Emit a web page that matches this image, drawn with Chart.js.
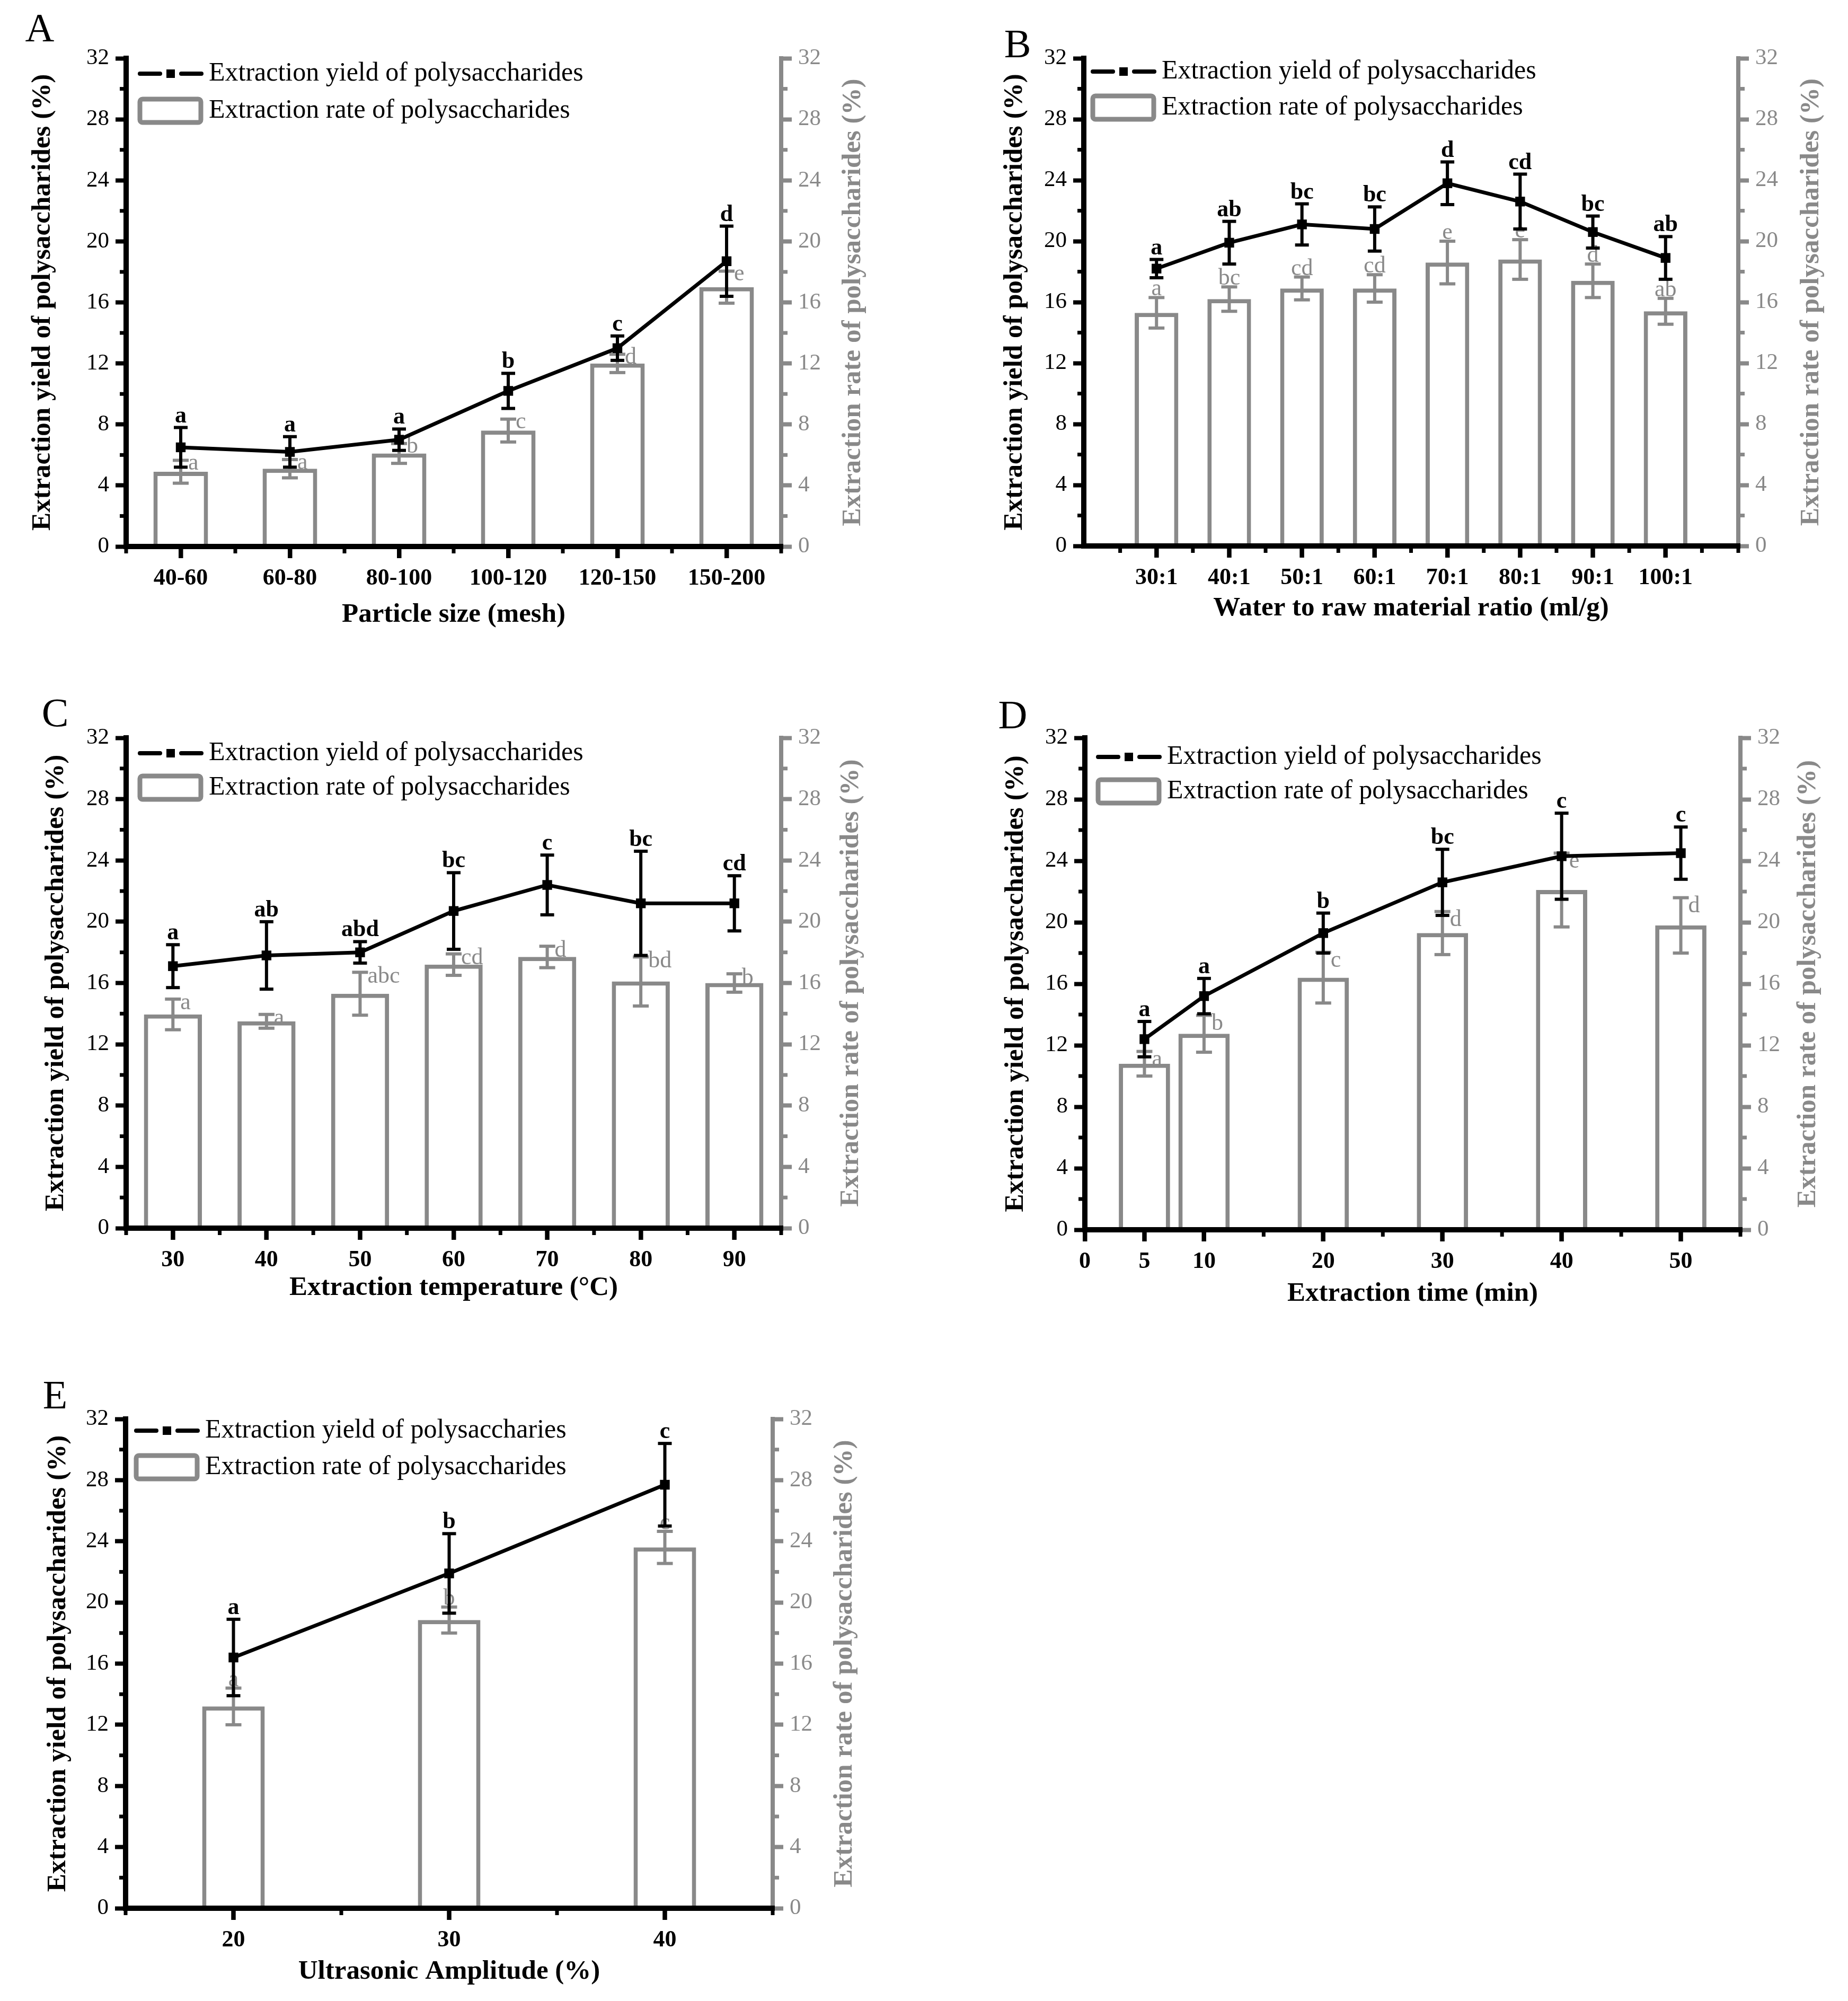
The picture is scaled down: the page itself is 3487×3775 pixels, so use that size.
<!DOCTYPE html>
<html>
<head>
<meta charset="utf-8">
<script src="https://cdn.jsdelivr.net/npm/chart.js@4.4.1/dist/chart.umd.min.js"></script>
<style>
  html, body { margin: 0; padding: 0; background: #fff; }
  body { width: 3487px; height: 3775px; position: relative; overflow: hidden; }
  canvas { position: absolute; }
</style>
</head>
<body>
<canvas id="cA"></canvas>
<canvas id="cB"></canvas>
<canvas id="cC"></canvas>
<canvas id="cD"></canvas>
<canvas id="cE"></canvas>
<script>
// A - particle size
const sizeLabels = ['40-60', '60-80', '80-100', '100-120', '120-150', '150-200'];
const sizeYield = [6.5, 6.2, 7.0, 10.2, 13.0, 18.7];
const sizeYieldErr = [1.3, 1.0, 0.7, 1.15, 0.8, 2.3];
const sizeYieldSig = ['a', 'a', 'a', 'b', 'c', 'd'];
const sizeRate = [4.9, 5.1, 6.1, 7.6, 12.0, 17.0];
const sizeRateErr = [0.75, 0.6, 0.65, 0.75, 0.6, 1.05];
const sizeRateSig = ['a', 'a', 'b', 'c', 'd', 'e'];

// B - water to raw material ratio
const ratioLabels = ['30:1', '40:1', '50:1', '60:1', '70:1', '80:1', '90:1', '100:1'];
const ratioYield = [18.2, 19.9, 21.1, 20.8, 23.8, 22.6, 20.6, 18.9];
const ratioYieldErr = [0.6, 1.4, 1.35, 1.45, 1.4, 1.8, 1.05, 1.4];
const ratioYieldSig = ['a', 'ab', 'bc', 'bc', 'd', 'cd', 'bc', 'ab'];
const ratioRate = [15.3, 16.2, 16.9, 16.9, 18.6, 18.8, 17.4, 15.4];
const ratioRateErr = [1.0, 0.8, 0.75, 0.9, 1.4, 1.3, 1.1, 0.85];
const ratioRateSig = ['a', 'bc', 'cd', 'cd', 'e', 'e', 'd', 'ab'];

// C - extraction temperature
const temps = [30, 40, 50, 60, 70, 80, 90];
const tempYield = [17.1, 17.8, 18.0, 20.7, 22.4, 21.2, 21.2];
const tempYieldErr = [1.4, 2.2, 0.7, 2.5, 1.95, 3.4, 1.8];
const tempYieldSig = ['a', 'ab', 'abd', 'bc', 'c', 'bc', 'cd'];
const tempRate = [13.95, 13.5, 15.3, 17.2, 17.7, 16.1, 16.0];
const tempRateErr = [1.0, 0.45, 1.4, 0.7, 0.7, 1.6, 0.6];
const tempRateSig = ['a', 'a', 'abc', 'cd', 'd', 'bd', 'b'];

// D - extraction time
const times = [5, 10, 20, 30, 40, 50];
const timeYield = [12.4, 15.2, 19.3, 22.6, 24.3, 24.5];
const timeYieldErr = [1.15, 1.15, 1.3, 2.15, 2.8, 1.7];
const timeYieldSig = ['a', 'a', 'b', 'bc', 'c', 'c'];
const timeRate = [10.8, 12.75, 16.4, 19.3, 22.1, 19.8];
const timeRateErr = [0.8, 1.2, 1.65, 1.4, 2.4, 1.8];
const timeRateSig = ['a', 'b', 'c', 'd', 'e', 'd'];
const timeTicks = [0, 5, 10, 20, 30, 40, 50];

// E - ultrasonic amplitude
const amps = [20, 30, 40];
const ampYield = [16.4, 21.9, 27.7];
const ampYieldErr = [2.5, 2.6, 2.7];
const ampYieldSig = ['a', 'b', 'c'];
const ampRate = [13.2, 18.85, 23.6];
const ampRateErr = [1.2, 0.85, 1.05];
const ampRateSig = ['a', 'b', 'c'];

const yTicksMinor = [2, 6, 10, 14, 18, 22, 26, 30];

const GREY = '#898989';
const SERIF = '"Liberation Serif", "Times New Roman", serif';
const yieldTitle = 'Extraction yield of polysaccharides (%)';
const rateTitle = 'Extraction rate of polysaccharides (%)';

const panels = [
  { id: 'cA', tag: 'A', tagAt: [75, 58],
    box: { x: 0, y: 0, w: 1720, h: 1210 }, area: { l: 238, t: 110, r: 1474, b: 1031 },
    leftTitleX: 81, rightTitleX: 1610, xTitleY: 1160,
    legend: { dx: 22, y1: 29, y2: 99 }, rateMode: 'right', rateDy: 6,
    xs: sizeLabels.map((_, i) => i), xMin: -0.5, xMax: 5.5, xTicks: sizeLabels.map((_, i) => i),
    xFmt: v => sizeLabels[v], minorX: [-0.5, 0.5, 1.5, 2.5, 3.5, 4.5, 5.5], barPct: 0.5,
    xTitle: 'Particle size (mesh)', lineLabel: 'Extraction yield of polysaccharides',
    yv: sizeYield, ye: sizeYieldErr, ys: sizeYieldSig, rv: sizeRate, re: sizeRateErr, rs: sizeRateSig },
  { id: 'cB', tag: 'B', tagAt: [1920, 88],
    box: { x: 1740, y: 0, w: 1747, h: 1210 }, area: { l: 2045, t: 110, r: 3280, b: 1030 },
    leftTitleX: 1915, rightTitleX: 3418, xTitleY: 1148,
    legend: { dx: 13, y1: 25, y2: 93 }, rateMode: 'above', rateDy: 0,
    xs: ratioLabels.map((_, i) => i), xMin: -1, xMax: 8, xTicks: ratioLabels.map((_, i) => i),
    xFmt: v => ratioLabels[v], minorX: [-0.5, 0.5, 1.5, 2.5, 3.5, 4.5, 5.5, 6.5, 7.5, 8], barPct: 0.6,
    xTitle: 'Water to raw material ratio (ml/g)', lineLabel: 'Extraction yield of polysaccharides',
    yv: ratioYield, ye: ratioYieldErr, ys: ratioYieldSig, rv: ratioRate, re: ratioRateErr, rs: ratioRateSig },
  { id: 'cC', tag: 'C', tagAt: [104, 1350],
    box: { x: 0, y: 1260, w: 1720, h: 1230 }, area: { l: 238, t: 1392, r: 1474, b: 2317 },
    leftTitleX: 106, rightTitleX: 1606, xTitleY: 2430,
    legend: { dx: 22, y1: 29, y2: 94 }, rateMode: 'right', rateDy: 8,
    xs: temps, xMin: 25, xMax: 95, xTicks: temps,
    xFmt: v => String(v), minorX: [25, 35, 45, 55, 65, 75, 85, 95], barPct: 0.62,
    xTitle: 'Extraction temperature (°C)', lineLabel: 'Extraction yield of polysaccharides',
    yv: tempYield, ye: tempYieldErr, ys: tempYieldSig, rv: tempRate, re: tempRateErr, rs: tempRateSig },
  { id: 'cD', tag: 'D', tagAt: [1911, 1354],
    box: { x: 1740, y: 1260, w: 1747, h: 1230 }, area: { l: 2047, t: 1392, r: 3284, b: 2320 },
    leftTitleX: 1917, rightTitleX: 3412, xTitleY: 2441,
    legend: { dx: 21, y1: 36, y2: 101 }, rateMode: 'right', rateDy: 16,
    xs: times, xMin: 0, xMax: 55, xTicks: timeTicks,
    xFmt: v => String(v), minorX: [15, 25, 35, 45, 55], barPct: 0.86,
    xTitle: 'Extraction time (min)', lineLabel: 'Extraction yield of polysaccharides',
    yv: timeYield, ye: timeYieldErr, ys: timeYieldSig, rv: timeRate, re: timeRateErr, rs: timeRateSig },
  { id: 'cE', tag: 'E', tagAt: [104, 2637],
    box: { x: 0, y: 2560, w: 1720, h: 1215 }, area: { l: 237, t: 2677, r: 1458, b: 3600 },
    leftTitleX: 110, rightTitleX: 1594, xTitleY: 3720,
    legend: { dx: 16, y1: 22, y2: 91 }, rateMode: 'above', rateDy: 0,
    xs: amps, xMin: 15, xMax: 45, xTicks: amps,
    xFmt: v => String(v), minorX: [15, 25, 35, 45], barPct: 0.29,
    xTitle: 'Ultrasonic Amplitude (%)', lineLabel: 'Extraction yield of polysaccharies',
    yv: ampYield, ye: ampYieldErr, ys: ampYieldSig, rv: ampRate, re: ampRateErr, rs: ampRateSig }
];
const panelById = {};
panels.forEach(p => { panelById[p.id] = p; });

function seg(ctx, x1, y1, x2, y2) {
  ctx.beginPath(); ctx.moveTo(x1, y1); ctx.lineTo(x2, y2); ctx.stroke();
}

const extras = {
  id: 'extras',
  afterDatasetDraw(chart, args) {
    const p = panelById[chart.canvas.id];
    const ds = chart.data.datasets[args.index];
    const meta = args.meta;
    const sc = chart.scales[meta.yAxisID];
    const ctx = chart.ctx;
    const isBar = meta.type === 'bar';
    const cap = isBar ? 15 : 13;
    ctx.save();
    ctx.strokeStyle = isBar ? GREY : '#000';
    ctx.lineWidth = 6;
    meta.data.forEach((el, i) => {
      const v = ds.data[i].y, e = ds.errors[i];
      const t = sc.getPixelForValue(v + e), b = sc.getPixelForValue(v - e);
      seg(ctx, el.x, t, el.x, b);
      seg(ctx, el.x - cap, t, el.x + cap, t);
      seg(ctx, el.x - cap, b, el.x + cap, b);
    });
    ctx.font = (isBar ? '' : 'bold ') + '44px ' + SERIF;
    ctx.fillStyle = isBar ? GREY : '#000';
    meta.data.forEach((el, i) => {
      const t = sc.getPixelForValue(ds.data[i].y + ds.errors[i]);
      if (isBar && p.rateMode === 'right') {
        ctx.textAlign = 'left'; ctx.textBaseline = 'middle';
        ctx.fillText(ds.sig[i], el.x + 14, t + p.rateDy);
      } else {
        ctx.textAlign = 'center'; ctx.textBaseline = 'alphabetic';
        ctx.fillText(ds.sig[i], el.x, t - (isBar ? 4 : 10));
      }
    });
    ctx.restore();
  },
  afterDraw(chart) {
    const p = panelById[chart.canvas.id];
    const ctx = chart.ctx;
    const { left, right, top, bottom } = chart.chartArea;
    const sx = chart.scales.x, sy = chart.scales.y, sy1 = chart.scales.y1;
    ctx.save();
    // bottom axis line and its tick marks, kept above the bars
    ctx.strokeStyle = '#000';
    ctx.lineWidth = 10;
    seg(ctx, left - 5, bottom, right + 4, bottom);
    ctx.lineWidth = 8;
    sx.ticks.forEach(t => { const x = sx.getPixelForValue(t.value); seg(ctx, x, bottom, x, bottom + 22); });
    // minor ticks
    ctx.lineWidth = 7;
    yTicksMinor.forEach(v => { const y = sy.getPixelForValue(v); seg(ctx, left - 12, y, left, y); });
    p.minorX.forEach(v => { const x = sx.getPixelForValue(v); seg(ctx, x, bottom, x, bottom + 13); });
    ctx.strokeStyle = GREY;
    yTicksMinor.forEach(v => { const y = sy1.getPixelForValue(v); seg(ctx, right, y, right + 12, y); });

    // legend
    const lx = left + p.legend.dx, y1 = top + p.legend.y1, y2 = top + p.legend.y2;
    const lineDs = chart.data.datasets[0], barDs = chart.data.datasets[1];
    ctx.strokeStyle = '#000'; ctx.lineWidth = 8; ctx.lineCap = 'round';
    seg(ctx, lx + 4, y1, lx + 42, y1);
    seg(ctx, lx + 82, y1, lx + 120, y1);
    ctx.fillStyle = '#000';
    ctx.fillRect(lx + 54, y1 - 8, 16, 16);
    ctx.lineCap = 'butt';
    ctx.strokeStyle = GREY; ctx.lineWidth = 9;
    ctx.beginPath();
    ctx.roundRect(lx + 4, y2 - 22, 115, 44, 5);
    ctx.stroke();
    ctx.fillStyle = '#000';
    ctx.font = '50px ' + SERIF;
    ctx.textAlign = 'left'; ctx.textBaseline = 'middle';
    ctx.fillText(lineDs.label, lx + 134, y1);
    ctx.fillText(barDs.label, lx + 134, y2);

    // right axis title, reading bottom to top
    ctx.save();
    ctx.translate(p.rightTitleX - p.box.x, (top + bottom) / 2);
    ctx.rotate(-Math.PI / 2);
    ctx.font = 'bold 51px ' + SERIF;
    ctx.fillStyle = GREY;
    ctx.textAlign = 'center'; ctx.textBaseline = 'middle';
    ctx.fillText(rateTitle, 0, 0);
    ctx.restore();

    // panel tag
    ctx.font = '76px ' + SERIF;
    ctx.fillStyle = '#000';
    ctx.textAlign = 'center'; ctx.textBaseline = 'middle';
    ctx.fillText(p.tag, p.tagAt[0] - p.box.x, p.tagAt[1] - p.box.y);
    ctx.restore();
  }
};

function buildPanel(p) {
  const cv = document.getElementById(p.id);
  cv.width = p.box.w; cv.height = p.box.h;
  cv.style.left = p.box.x + 'px'; cv.style.top = p.box.y + 'px';
  const lw = p.area.l - p.box.x;
  const rw = p.box.x + p.box.w - p.area.r;
  const xh = p.box.y + p.box.h - p.area.b;
  const padTop = p.area.t - p.box.y;
  const half = 51 * 1.2 / 2;

  new Chart(cv, {
    type: 'bar',
    data: {
      datasets: [
        { type: 'line', label: p.lineLabel, yAxisID: 'y', order: 0,
          data: p.xs.map((x, i) => ({ x: x, y: p.yv[i] })), errors: p.ye, sig: p.ys,
          borderColor: '#000', borderWidth: 7, tension: 0,
          pointStyle: 'rect', pointRadius: 13, pointBackgroundColor: '#000', pointBorderWidth: 0 },
        { type: 'bar', label: 'Extraction rate of polysaccharides', yAxisID: 'y1', order: 1,
          data: p.xs.map((x, i) => ({ x: x, y: p.rv[i] })), errors: p.re, sig: p.rs,
          backgroundColor: '#fff', borderColor: GREY, borderWidth: 8,
          barPercentage: p.barPct, categoryPercentage: 1 }
      ]
    },
    options: {
      responsive: false, animation: false, devicePixelRatio: 1,
      layout: { padding: { top: padTop, left: 0, right: 0, bottom: 0 } },
      plugins: { legend: { display: false }, tooltip: { enabled: false } },
      scales: {
        x: {
          type: 'linear', position: 'bottom', min: p.xMin, max: p.xMax, offset: false,
          afterBuildTicks: s => { s.ticks = p.xTicks.map(v => ({ value: v })); },
          afterFit: s => { s.height = xh; },
          ticks: { autoSkip: false, maxRotation: 0, padding: 12, color: '#000',
                   font: { family: SERIF, size: 44, weight: 'bold' }, callback: p.xFmt },
          grid: { drawOnChartArea: false, offset: false, tickLength: 22, tickWidth: 8, tickColor: '#000', z: 1 },
          border: { color: '#000', width: 10, z: 1 },
          title: { display: true, text: p.xTitle, color: '#000',
                   font: { family: SERIF, size: 51, weight: 'bold' },
                   padding: { top: 0, bottom: p.box.y + p.box.h - p.xTitleY - half } }
        },
        y: {
          position: 'left', min: 0, max: 32,
          afterFit: s => { s.width = lw; },
          ticks: { stepSize: 4, padding: 12, color: '#000', font: { family: SERIF, size: 43 } },
          grid: { drawOnChartArea: false, tickLength: 20, tickWidth: 8, tickColor: '#000' },
          border: { color: '#000', width: 10, z: 1 },
          title: { display: true, text: yieldTitle, color: '#000',
                   font: { family: SERIF, size: 51, weight: 'bold' },
                   padding: { top: p.leftTitleX - p.box.x - half, bottom: 0 } }
        },
        y1: {
          position: 'right', min: 0, max: 32,
          afterFit: s => { s.width = rw; },
          ticks: { stepSize: 4, padding: 12, color: GREY, font: { family: SERIF, size: 43 } },
          grid: { drawOnChartArea: false, tickLength: 20, tickWidth: 8, tickColor: GREY },
          border: { color: GREY, width: 8, z: 1 }
        }
      }
    },
    plugins: [extras]
  });
}

panels.forEach(buildPanel);
</script>
</body>
</html>
